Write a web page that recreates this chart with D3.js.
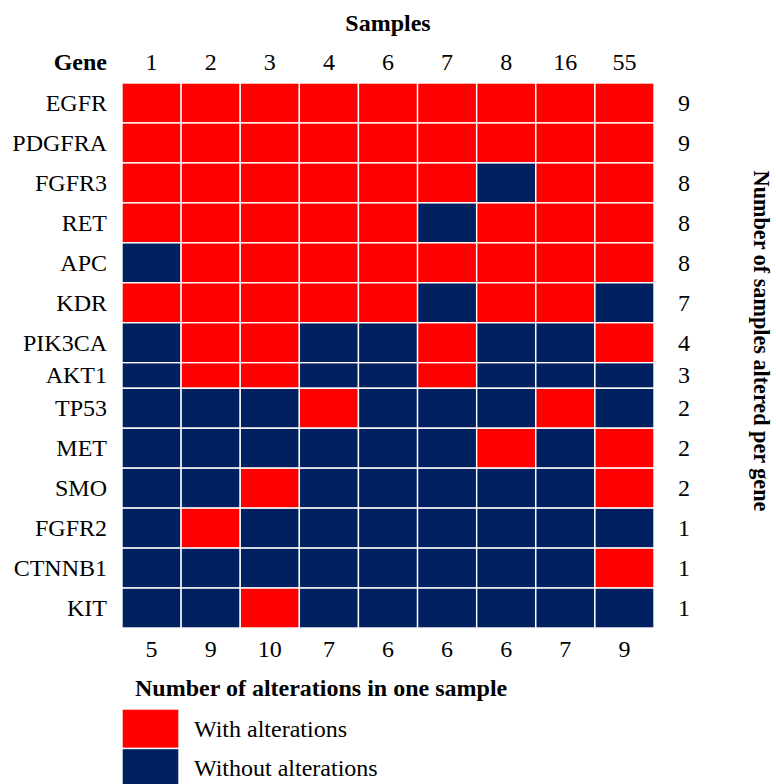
<!DOCTYPE html>
<html>
<head>
<meta charset="utf-8">
<script src="https://cdn.jsdelivr.net/npm/d3@7"></script>
<style>
  html, body { margin: 0; padding: 0; background: #fff; }
  svg { display: block; font-family: "Liberation Serif", "Times New Roman", serif; }
</style>
</head>
<body>
<svg id="chart" width="776" height="784"></svg>
<script>
// ---- data ----
const samples = ["1", "2", "3", "4", "6", "7", "8", "16", "55"];
const genes = ["EGFR", "PDGFRA", "FGFR3", "RET", "APC", "KDR", "PIK3CA", "AKT1",
               "TP53", "MET", "SMO", "FGFR2", "CTNNB1", "KIT"];
// 1 = with alteration, 0 = without (rows = genes, columns = samples)
const EGFR   = [1,1,1,1,1,1,1,1,1];
const PDGFRA = [1,1,1,1,1,1,1,1,1];
const FGFR3  = [1,1,1,1,1,1,0,1,1];
const RET    = [1,1,1,1,1,0,1,1,1];
const APC    = [0,1,1,1,1,1,1,1,1];
const KDR    = [1,1,1,1,1,0,1,1,0];
const PIK3CA = [0,1,1,0,0,1,0,0,1];
const AKT1   = [0,1,1,0,0,1,0,0,0];
const TP53   = [0,0,0,1,0,0,0,1,0];
const MET    = [0,0,0,0,0,0,1,0,1];
const SMO    = [0,0,1,0,0,0,0,0,1];
const FGFR2  = [0,1,0,0,0,0,0,0,0];
const CTNNB1 = [0,0,0,0,0,0,0,0,1];
const KIT    = [0,0,1,0,0,0,0,0,0];
const geneTotals = [9, 9, 8, 8, 8, 7, 4, 3, 2, 2, 2, 1, 1, 1];
const sampleTotals = [5, 9, 10, 7, 6, 6, 6, 7, 9];
const legendLabels = ["With alterations", "Without alterations"];

const matrix = [EGFR, PDGFRA, FGFR3, RET, APC, KDR, PIK3CA, AKT1, TP53, MET, SMO, FGFR2, CTNNB1, KIT];

// ---- layout ----
const gridLeft = 122, gridRight = 654, gridTop = 83, gridBottom = 628;
const RED = "#FF0000", NAVY = "#002060";
const FS = 24;

const svg = d3.select("#chart");

const x = d3.scaleBand().domain(samples).range([gridLeft, gridRight]).padding(0);

// rows: AKT1 row is drawn shorter in the original
const rowW = genes.map(g => g === "AKT1" ? 0.64 : 1);
const totalW = d3.sum(rowW);
const unit = (gridBottom - gridTop) / totalW;
const starts = [0, ...d3.cumsum(rowW)].slice(0, genes.length);
const yTop = d3.scaleOrdinal().domain(genes).range(starts.map(s => gridTop + s * unit));
const yH = d3.scaleOrdinal().domain(genes).range(rowW.map(w => w * unit));
const color = d3.scaleOrdinal().domain([1, 0]).range([RED, NAVY]);

const cells = [];
genes.forEach((g, i) => samples.forEach((s, j) => cells.push({ g, s, v: matrix[i][j] })));

svg.append("g").selectAll("rect").data(cells).join("rect")
  .attr("x", d => x(d.s))
  .attr("y", d => yTop(d.g))
  .attr("width", x.bandwidth())
  .attr("height", d => yH(d.g))
  .attr("fill", d => color(d.v))
  .attr("stroke", "#fff")
  .attr("stroke-width", 1.4);

// titles
svg.append("text").attr("x", (gridLeft + gridRight) / 2).attr("y", 31)
  .attr("text-anchor", "middle").attr("font-weight", "bold").attr("font-size", FS)
  .text("Samples");
svg.append("text").attr("x", 107).attr("y", 70)
  .attr("text-anchor", "end").attr("font-weight", "bold").attr("font-size", FS)
  .text("Gene");

// column labels (top)
svg.append("g").selectAll("text").data(samples).join("text")
  .attr("x", d => x(d) + x.bandwidth() / 2).attr("y", 70)
  .attr("text-anchor", "middle").attr("font-size", FS)
  .text(d => d);

// row labels (left)
svg.append("g").selectAll("text").data(genes).join("text")
  .attr("x", 107).attr("y", d => yTop(d) + yH(d) / 2 + 8)
  .attr("text-anchor", "end").attr("font-size", FS)
  .text(d => d);

// right totals
svg.append("g").selectAll("text").data(genes).join("text")
  .attr("x", 684).attr("y", (d) => yTop(d) + yH(d) / 2 + 8)
  .attr("text-anchor", "middle").attr("font-size", FS)
  .text((d, i) => geneTotals[i]);

// bottom totals
svg.append("g").selectAll("text").data(samples).join("text")
  .attr("x", d => x(d) + x.bandwidth() / 2).attr("y", 657)
  .attr("text-anchor", "middle").attr("font-size", FS)
  .text((d, i) => sampleTotals[i]);

// right vertical title
svg.append("text")
  .attr("transform", `translate(754, 341) rotate(90)`)
  .attr("text-anchor", "middle").attr("font-weight", "bold").attr("font-size", 22.2)
  .text("Number of samples altered per gene");

// legend
svg.append("text").attr("x", 135).attr("y", 696)
  .attr("font-weight", "bold").attr("font-size", FS)
  .text("Number of alterations in one sample");

const leg = svg.append("g").selectAll("g").data(legendLabels).join("g")
  .attr("transform", (d, i) => `translate(122, ${709 + i * 39.5})`);
leg.append("rect").attr("width", 57).attr("height", 39.5)
  .attr("fill", (d, i) => i === 0 ? RED : NAVY)
  .attr("stroke", "#fff").attr("stroke-width", 1.4);
leg.append("text").attr("x", 72).attr("y", 27.5).attr("font-size", FS)
  .text(d => d);
</script>
</body>
</html>
